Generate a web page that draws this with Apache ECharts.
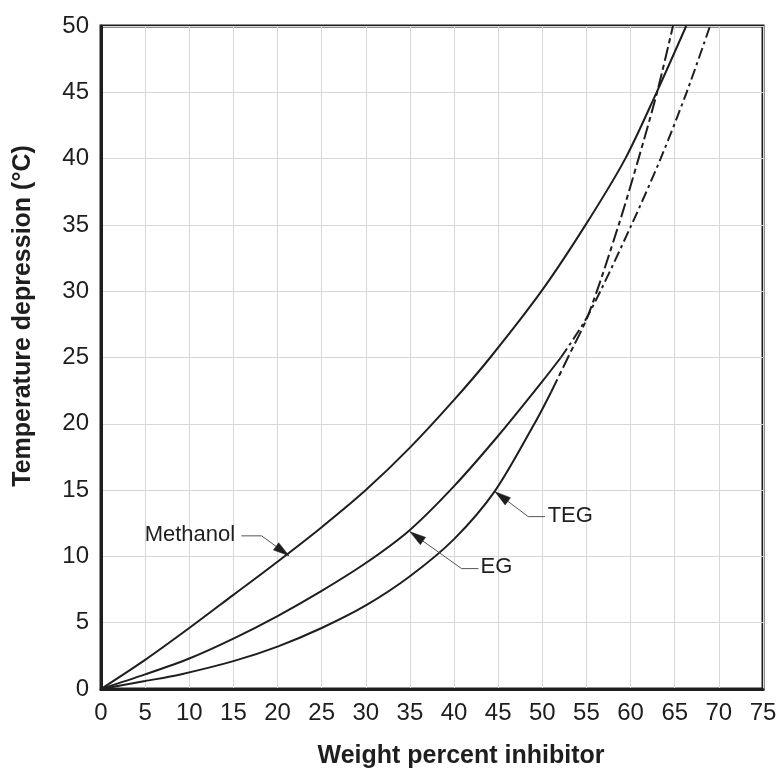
<!DOCTYPE html>
<html>
<head>
<meta charset="utf-8">
<script src="https://cdn.jsdelivr.net/npm/echarts@6/dist/echarts.min.js"></script>
<style>
html,body{margin:0;padding:0;background:#fff;}
#c{width:784px;height:769px;}
</style>
</head>
<body>
<div id="c"></div>
<script>
// ---- data ----
const methanol = [[0,0],[5,2.2],[10,4.6],[15,7.1],[20,9.6],[25,12.2],[30,15],[35,18.2],[40,21.8],[44.1,25],[49.9,30],[54.9,35],[59.4,40],[62.95,45],[66.3,50]];
const egSolid  = [[0,0],[5,1.1],[10,2.3],[15,3.8],[20,5.5],[25,7.4],[30,9.5],[35,12],[40,15.3],[45,19.1],[50,23.2],[52.1,25]];
const egDashed = [[52.1,25],[55.2,28.2],[60.1,35],[63.4,40],[66.35,45],[69,50]];
const tegSolid = [[0,0],[5,0.6],[9,1.1],[15,2.1],[20,3.2],[25,4.6],[30,6.3],[35,8.5],[40,11.3],[44.6,14.9],[49.1,20],[51,22.4]];
const tegDashed= [[51,22.4],[52.9,25],[55.2,28.2],[58.65,35],[60.9,40],[63,45],[64.8,50]];

const xName = 'Weight percent inhibitor';
const yName = 'Temperature depression (°C)';

// annotations (data coordinates): label anchor, leader start -> bend -> arrow tip
const labelNames = ['Methanol','EG','TEG'];
const labelAligns = ['right','left','left'];
const labelAnchors = [[15.2,11.6],[43.0,9.2],[50.6,13.05]];
const leaders = [
  [[15.9,11.55],[18.2,11.55],[21.3,10.05]],
  [[42.75,9.08],[40.85,9.08],[35.0,11.86]],
  [[50.3,13.0],[48.4,13.0],[44.64,14.88]]
];

const FONT = '"Liberation Sans", Arial, Helvetica, sans-serif';
const INK = '#1e1e1e';

const chart = echarts.init(document.getElementById('c'), null, {renderer:'canvas'});

function curve(data, dash){
  return {
    type:'line', data:data, smooth:0.3, showSymbol:false, symbol:'none',
    lineStyle:{color:INK, width:2, type: dash || 'solid'}, z:5, silent:true
  };
}

const option = {
  animation:false,
  backgroundColor:'#fff',
  grid:{left:101, right:21, top:26, bottom:80, show:true, borderColor:INK, borderWidth:3, backgroundColor:'transparent'},
  xAxis:{
    type:'value', min:0, max:75, interval:5,
    axisLine:{show:true, onZero:false, lineStyle:{color:INK, width:3}},
    axisTick:{show:false},
    axisLabel:{fontSize:24, color:INK, fontFamily:FONT, margin:12},
    splitLine:{show:true, lineStyle:{color:'#d8d8d8', width:1}}
  },
  yAxis:{
    type:'value', min:0, max:50, interval:5,
    axisLine:{show:true, onZero:false, lineStyle:{color:INK, width:3}},
    axisTick:{show:false},
    axisLabel:{fontSize:24, color:INK, fontFamily:FONT, margin:12},
    splitLine:{show:true, lineStyle:{color:'#d8d8d8', width:1}}
  },
  series:[
    curve(methanol),
    curve(egSolid),
    curve(egDashed, [11,4,3,4]),
    curve(tegSolid),
    curve(tegDashed, [14,4,5,4])
  ]
};
chart.setOption(option);

// annotations and axis titles, positioned through the axes
const g = [];
function px(p){ return chart.convertToPixel({gridIndex:0}, p); }
labelNames.forEach(function(name, i){
  const p = px(labelAnchors[i]);
  g.push({type:'text', x:p[0], y:p[1], z:10, style:{text:name, font:'22px '+FONT, fill:INK, textAlign:labelAligns[i], textVerticalAlign:'middle'}});
  const pts = leaders[i].map(px);
  g.push({type:'polyline', z:9, shape:{points:pts}, style:{stroke:'#555', lineWidth:1, fill:null}});
  const a = pts[pts.length-2], b = pts[pts.length-1];
  const dx = b[0]-a[0], dy = b[1]-a[1], len = Math.sqrt(dx*dx+dy*dy);
  const ux = dx/len, uy = dy/len, nx = -uy, ny = ux, L = 16, W = 4.5;
  g.push({type:'polygon', z:10, shape:{points:[
    [b[0], b[1]],
    [b[0]-ux*L+nx*W, b[1]-uy*L+ny*W],
    [b[0]-ux*L-nx*W, b[1]-uy*L-ny*W]
  ]}, style:{fill:INK, stroke:INK, lineWidth:0.5}});
});
g.push({type:'text', x:461, y:756, style:{text:xName, font:'bold 25px '+FONT, fill:INK, textAlign:'center', textVerticalAlign:'middle'}});
g.push({type:'text', x:23, y:316, rotation:Math.PI/2, style:{text:yName, font:'bold 25px '+FONT, fill:INK, textAlign:'center', textVerticalAlign:'middle'}});
chart.setOption({graphic:g});
</script>
</body>
</html>
